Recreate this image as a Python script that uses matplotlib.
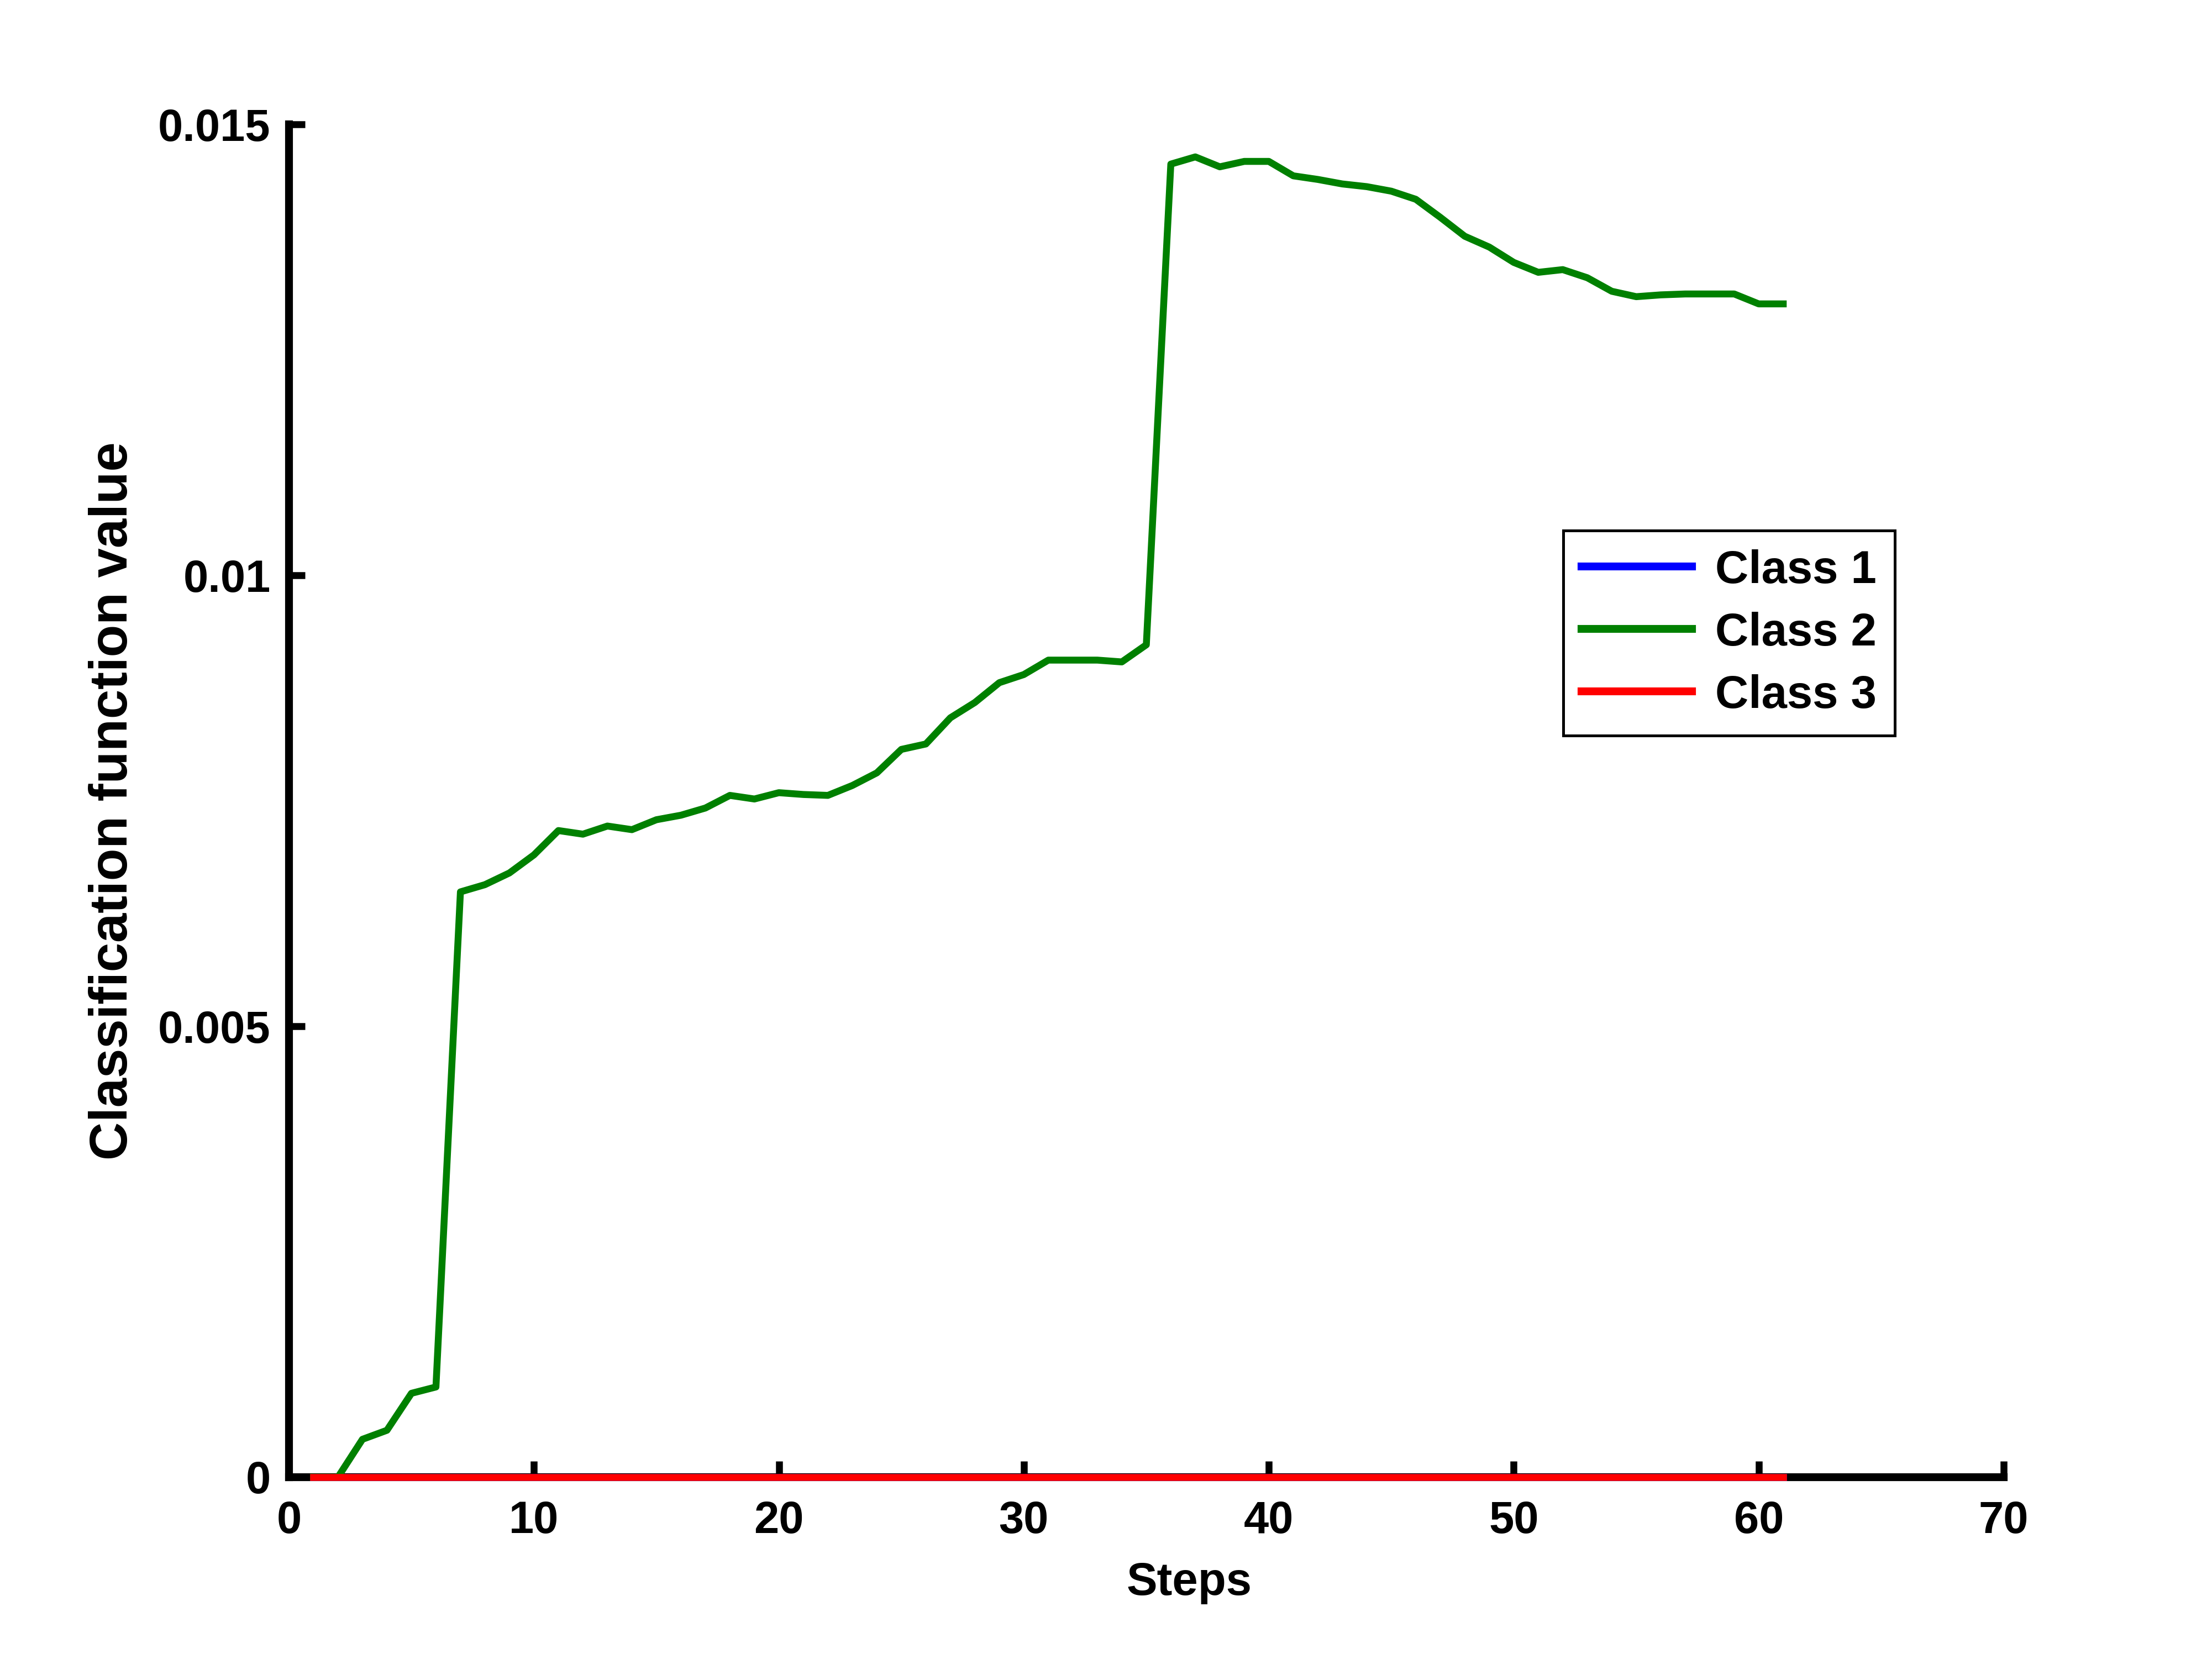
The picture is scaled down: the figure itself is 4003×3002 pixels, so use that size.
import matplotlib
matplotlib.use("Agg")
import matplotlib.pyplot as plt

steps = list(range(1, 62))
class2 = [0.0, 0.0, 0.00042, 0.00052, 0.00093, 0.00100, 0.00649, 0.00657, 0.00670, 0.00690,
          0.00717, 0.00713, 0.00722, 0.00718, 0.00729, 0.00734, 0.00742, 0.00756, 0.00752, 0.00759,
          0.00757, 0.00756, 0.00767, 0.00781, 0.00807, 0.00813, 0.00842, 0.00859, 0.00881, 0.00890,
          0.00906, 0.00906, 0.00906, 0.00904, 0.00923, 0.01456, 0.01464, 0.01453, 0.01459, 0.01459,
          0.01443, 0.01439, 0.01434, 0.01431, 0.01426, 0.01417, 0.01397, 0.01376, 0.01364, 0.01347,
          0.01336, 0.01339, 0.01330, 0.01315, 0.01309, 0.01311, 0.01312, 0.01312, 0.01312, 0.01301,
          0.01301]
class1 = [0.0] * len(steps)
class3 = [0.0] * len(steps)
labels = ["Class 1", "Class 2", "Class 3"]
xticks = [0, 10, 20, 30, 40, 50, 60, 70]
yticks = [0, 0.005, 0.01, 0.015]
ytick_labels = ["0", "0.005", "0.01", "0.015"]

plt.rcParams['font.family'] = ['Liberation Sans', 'DejaVu Sans']
plt.rcParams['font.weight'] = 'bold'

fig = plt.figure(figsize=(4004 / 300, 3002 / 300), dpi=300)
ax = fig.add_axes([0.1306, 0.1096, 0.7750, 0.8154])

lw = 3.0
ax.plot(steps, class1, color='#0000ff', lw=lw, label=labels[0], zorder=3, clip_on=False)
ax.plot(steps, class2, color='#008000', lw=lw, label=labels[1], zorder=3, clip_on=False)
ax.plot(steps, class3, color='#ff0000', lw=lw, label=labels[2], zorder=3, clip_on=False)

ax.set_xlim(0, 70)
ax.set_ylim(0, 0.015)
ax.set_xticks(xticks)
ax.set_xticklabels([str(t) for t in xticks])
ax.set_yticks(yticks)
ax.set_yticklabels(ytick_labels)

for s in ['top', 'right']:
    ax.spines[s].set_visible(False)
for s in ['left', 'bottom']:
    ax.spines[s].set_linewidth(3.4)
ax.tick_params(direction='in', length=7, width=3.0, labelsize=19.5, pad=8)
ax.tick_params(axis='x', pad=10)
for lab in ax.get_xticklabels() + ax.get_yticklabels():
    lab.set_fontweight('bold')

ax.set_xlabel('Steps', fontsize=20, fontweight='bold')
ax.xaxis.set_label_coords(0.525, -0.062)
ax.set_ylabel('Classification function value', fontsize=23, fontweight='bold')
ax.yaxis.set_label_coords(-0.088, 0.5)

leg = ax.legend(loc='upper left', bbox_to_anchor=(0.743, 0.6997), borderaxespad=0,
                frameon=True, fancybox=False, edgecolor='black', framealpha=1,
                handlelength=2.4, handletextpad=0.5, borderpad=0.4, labelspacing=0.42,
                prop={'weight': 'bold', 'size': 20})
leg.get_frame().set_linewidth(1.2)
for h in leg.get_lines():
    h.set_linewidth(3.4)

fig.savefig('out.png', dpi=300, facecolor='white')
